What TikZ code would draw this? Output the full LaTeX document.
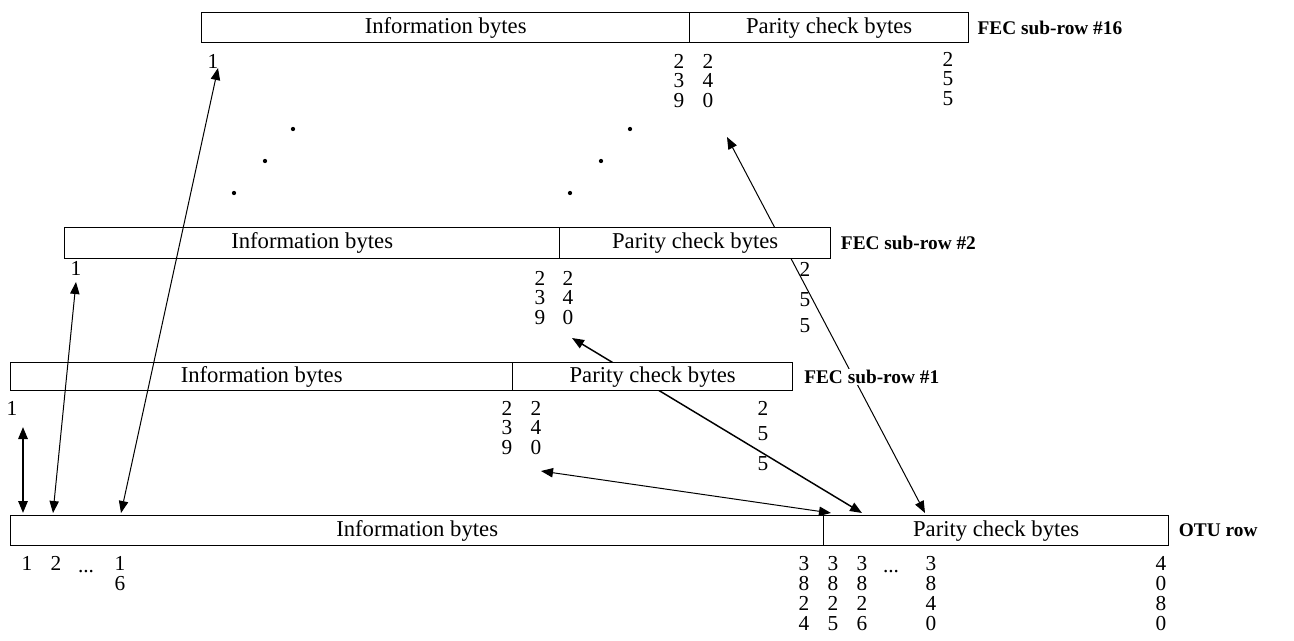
\documentclass[tikz,border=0pt]{standalone}
\usepackage{fontspec}
\setmainfont{Liberation Serif}
\usetikzlibrary{arrows.meta}

\tikzset{
  infobox/.style={draw,line width=1pt,inner sep=0pt,anchor=north west,font=\fontsize{17}{18}\selectfont},
  paritybox/.style={infobox,fill=white},
  rowlabel/.style={anchor=west,fill=white,inner sep=1pt,font=\bfseries\fontsize{14.5}{16}\selectfont},
  num/.style={anchor=north,inner sep=0pt,align=center,font=\fontsize{16}{14.5}\selectfont},
  otunum/.style={num,font=\fontsize{16}{15}\selectfont},
  link/.style={line width=0.75pt,{Triangle[length=9pt,width=7pt]}-{Triangle[length=9pt,width=7pt]}},
}

\begin{document}
\begin{tikzpicture}[x=0.75pt,y=-0.75pt]
\useasboundingbox (0,0) rectangle (1294,640);

% FEC sub-row #16
\node[infobox,minimum width=366pt,minimum height=22.5pt] (info16) at (201,12) {Information bytes};
\node[num] (r16one) at (213,54) {1};
\node[num] (r16a) at (679,54) {2\\3\\9};
\node[num] (r16b) at (708,54) {2\\4\\0};
\node[num] (r16c) at (948,52) {2\\5\\5};

% dots between the sub-rows
\foreach \x/\y in {293/129,265/161,234/193,630/129,601/161,570/193}
  \fill (\x,\y) circle[radius=1.6pt];

% FEC sub-row #2
\node[infobox,minimum width=371.25pt,minimum height=23.25pt] (info2) at (64,227) {Information bytes};
\node[num] (r2one) at (76,261) {1};
\node[num] (r2a) at (540,271) {2\\3\\9};
\node[num] (r2b) at (568,271) {2\\4\\0};
\node[num] (r2c) at (805,262) {2\\[8pt]5\\[5pt]5};

% FEC sub-row #1
\node[infobox,minimum width=376.5pt,minimum height=21pt] (info1) at (10,362) {Information bytes};
\node[num] (r1one) at (12,401) {1};
\node[num] (r1a) at (507,401) {2\\3\\9};
\node[num] (r1b) at (536,401) {2\\4\\0};
\node[num] (r1c) at (763,401) {2\\[4pt]5\\[8pt]5};

% OTU row
\node[infobox,minimum width=609.75pt,minimum height=22.5pt] (otuinfo) at (10,515) {Information bytes};
\node[otunum] (o1n) at (27,556) {1};
\node[otunum] (o2n) at (56,556) {2};
\node[otunum] (odots) at (86,570) {...};
\node[otunum] (o16n) at (120,556) {1\\6};
\node[otunum] (o3824) at (804,556) {3\\8\\2\\4};
\node[otunum] (o3825) at (833,556) {3\\8\\2\\5};
\node[otunum] (o3826) at (862,556) {3\\8\\2\\6};
\node[otunum] (pdots) at (891,570) {...};
\node[otunum] (o3840) at (931,556) {3\\8\\4\\0};
\node[otunum] (o4080) at (1161,556) {4\\0\\8\\0};

% arrow ends
\coordinate (t1) at (23,427);
\coordinate (t2) at (76,282);
\coordinate (t16) at (218,68);
\coordinate (t239) at (541,471);
\coordinate (t240) at (572,338);
\coordinate (t255) at (727,137);
\coordinate (b1) at (23,513);
\coordinate (b2) at (53,513);
\coordinate (b16) at (121,513);
\coordinate (b239) at (831,513);
\coordinate (b240) at (862,513);
\coordinate (b255) at (925,513);

\draw[link,line width=1.5pt] (t1) -- (b1);
\draw[link] (t2) -- (b2);
\draw[link] (t16) -- (b16);
\draw[link] (t239) -- (b239);
\draw[link,line width=1.1pt] (t240) -- (b240);
\draw[link] (t255) -- (b255);

% parity parts, white, on top of the arrows
\node[paritybox,minimum width=209.25pt,minimum height=22.5pt] (par16) at (689,12) {Parity check bytes};
\node[paritybox,minimum width=203.25pt,minimum height=23.25pt] (par2) at (559,227) {Parity check bytes};
\node[paritybox,minimum width=210pt,minimum height=21pt] (par1) at (512,362) {Parity check bytes};
\node[paritybox,minimum width=258.75pt,minimum height=22.5pt] (otupar) at (823,515) {Parity check bytes};

\node[rowlabel] (lab16) at ([xshift=5pt]par16.east) {FEC sub-row \#16};
\node[rowlabel] (lab2) at ([xshift=6pt]par2.east) {FEC sub-row \#2};
\node[rowlabel] (lab1) at ([xshift=7pt]par1.east) {FEC sub-row \#1};
\node[rowlabel] (labotu) at ([xshift=6pt]otupar.east) {OTU row};
\end{tikzpicture}
\end{document}
